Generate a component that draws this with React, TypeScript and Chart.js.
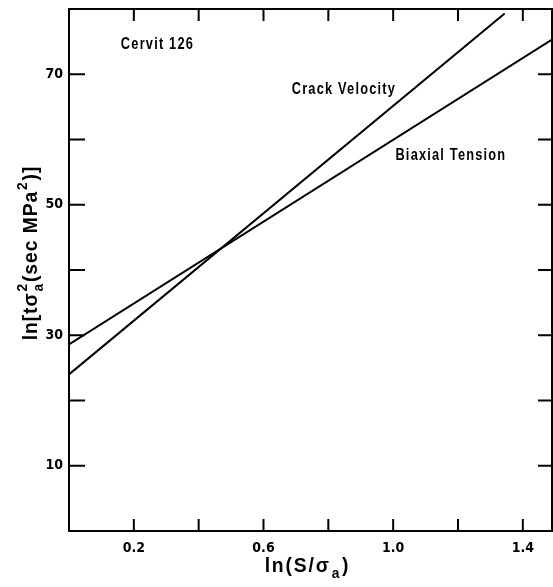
import React, { useEffect, useRef } from 'react';
import { Chart, registerables } from 'chart.js';

Chart.register(...registerables);

// ---- Data ----
const crackVelocityX = [0, 1.344];
const crackVelocityY = [24.0, 79.3];
const biaxialTensionX = [0, 1.49];
const biaxialTensionY = [28.6, 75.3];

const xTickValues = [0.2, 0.4, 0.6, 0.8, 1.0, 1.2, 1.4];
const xLabelValues = [0.2, 0.6, 1.0, 1.4];
const yTickValues = [10, 20, 30, 40, 50, 60, 70];
const yLabelValues = [10, 30, 50, 70];

const annotationTexts = ['Cervit 126', 'Crack Velocity', 'Biaxial Tension'];
const annotationX = [0.16, 0.687, 1.007];
const annotationY = [74.6, 67.7, 57.5];

const TICK_FONT = "'DejaVu Sans Condensed', 'DejaVu Sans', sans-serif";
const TEXT_FONT = "'Liberation Sans', Arial, sans-serif";

type Seg = { t: string; kind?: 'sub' | 'sup' | 'stack'; sup?: string; sub?: string };

function drawRich(ctx: CanvasRenderingContext2D, segs: Seg[], size: number) {
  const big = `bold ${size}px ${TEXT_FONT}`;
  const small = `bold ${Math.round(size * 0.72)}px ${TEXT_FONT}`;
  const widths: number[] = segs.map((s) => {
    if (!s.kind) { ctx.font = big; return ctx.measureText(s.t).width; }
    ctx.font = small;
    if (s.kind === 'stack') return Math.max(ctx.measureText(s.sup || '').width, ctx.measureText(s.sub || '').width) + 2;
    return ctx.measureText(s.t).width + 2;
  });
  const total = widths.reduce((a, b) => a + b, 0);
  let x = -total / 2;
  segs.forEach((s, i) => {
    if (!s.kind) {
      ctx.font = big;
      ctx.fillText(s.t, x, 0);
    } else if (s.kind === 'sub') {
      ctx.font = small;
      ctx.fillText(s.t, x + 1, size * 0.3);
    } else if (s.kind === 'sup') {
      ctx.font = small;
      ctx.fillText(s.t, x + 1, -size * 0.5);
    } else {
      ctx.font = small;
      ctx.fillText(s.sup || '', x + 1, -size * 0.5);
      ctx.fillText(s.sub || '', x + 1, size * 0.3);
    }
    x += widths[i];
  });
}

const framePlugin = {
  id: 'framePlugin',
  afterDraw(chart: any) {
    const { ctx, chartArea } = chart;
    const xs = chart.scales.x;
    const ys = chart.scales.y;
    const { left, right, top, bottom } = chartArea;
    ctx.save();
    ctx.strokeStyle = '#000';
    ctx.lineWidth = 2;
    ctx.strokeRect(left, top, right - left, bottom - top);
    ctx.beginPath();
    xTickValues.forEach((v) => {
      const px = xs.getPixelForValue(v);
      ctx.moveTo(px, bottom); ctx.lineTo(px, bottom - 12);
      ctx.moveTo(px, top); ctx.lineTo(px, top + 12);
    });
    yTickValues.forEach((v) => {
      const py = ys.getPixelForValue(v);
      ctx.moveTo(left, py); ctx.lineTo(left + 16, py);
      ctx.moveTo(right, py); ctx.lineTo(right - 14, py);
    });
    ctx.stroke();

    // annotations
    ctx.fillStyle = '#000';
    ctx.textAlign = 'left';
    ctx.textBaseline = 'middle';
    annotationTexts.forEach((t, i) => {
      ctx.save();
      ctx.translate(xs.getPixelForValue(annotationX[i]), ys.getPixelForValue(annotationY[i]));
      ctx.scale(0.8, 1);
      ctx.font = `bold 16px ${TEXT_FONT}`;
      (ctx as any).letterSpacing = '1.5px';
      ctx.fillText(t, 0, 0);
      ctx.restore();
    });

    // axis titles
    ctx.textAlign = 'left';
    ctx.textBaseline = 'alphabetic';
    ctx.save();
    (ctx as any).letterSpacing = '2px';
    ctx.translate((left + right) / 2 - 3, 572);
    ctx.scale(0.92, 1);
    drawRich(ctx, [{ t: 'ln(S/σ' }, { t: 'a', kind: 'sub' }, { t: ')' }], 21);
    ctx.restore();

    ctx.save();
    (ctx as any).letterSpacing = '1px';
    ctx.translate(37, (top + bottom) / 2 - 17);
    ctx.rotate(-Math.PI / 2);
    ctx.scale(0.92, 1);
    drawRich(ctx, [
      { t: 'ln[tσ' },
      { t: '', kind: 'stack', sup: '2', sub: 'a' },
      { t: '(sec MPa' },
      { t: '2', kind: 'sup' },
      { t: ')]' },
    ], 21);
    ctx.restore();
    ctx.restore();
  },
};

export default function App() {
  const ref = useRef<HTMLCanvasElement | null>(null);
  useEffect(() => {
    document.body.style.margin = '0';
    const canvas = ref.current!;
    const chart = new Chart(canvas, {
      type: 'line',
      data: {
        datasets: [
          {
            label: 'Crack Velocity',
            data: crackVelocityX.map((x, i) => ({ x, y: crackVelocityY[i] })),
            borderColor: '#000',
            borderWidth: 2,
            pointRadius: 0,
            tension: 0,
          },
          {
            label: 'Biaxial Tension',
            data: biaxialTensionX.map((x, i) => ({ x, y: biaxialTensionY[i] })),
            borderColor: '#000',
            borderWidth: 2,
            pointRadius: 0,
            tension: 0,
          },
        ],
      },
      options: {
        responsive: false,
        animation: false,
        layout: { padding: { top: 9, right: 1, left: 0, bottom: 0 } },
        plugins: { legend: { display: false }, tooltip: { enabled: false } },
        scales: {
          x: {
            type: 'linear',
            min: 0,
            max: 1.49,
            grid: { display: false, drawTicks: false },
            border: { display: false },
            afterBuildTicks: (s: any) => { s.ticks = xLabelValues.map((v) => ({ value: v })); },
            ticks: {
              autoSkip: false,
              maxRotation: 0,
              padding: 9,
              color: '#000',
              font: { family: TICK_FONT, size: 14, weight: 'bold' },
              callback: (v: any) => Number(v).toFixed(1),
            },
            afterFit: (s: any) => { s.height = 56; s.paddingLeft = 0; s.paddingRight = 0; },
          },
          y: {
            type: 'linear',
            min: 0,
            max: 80,
            grid: { display: false, drawTicks: false },
            border: { display: false },
            afterBuildTicks: (s: any) => { s.ticks = yLabelValues.map((v) => ({ value: v })); },
            ticks: {
              autoSkip: false,
              padding: 6,
              color: '#000',
              font: { family: TICK_FONT, size: 14, weight: 'bold' },
              callback: (v: any) => String(v),
            },
            afterFit: (s: any) => { s.width = 69; s.paddingTop = 0; s.paddingBottom = 0; },
          },
        },
      },
      plugins: [framePlugin],
    });
    return () => chart.destroy();
  }, []);
  return (
    <div style={{ position: 'fixed', left: 0, top: 0, width: 553, height: 587, background: '#fff' }}>
      <canvas ref={ref} width={553} height={587} />
    </div>
  );
}
